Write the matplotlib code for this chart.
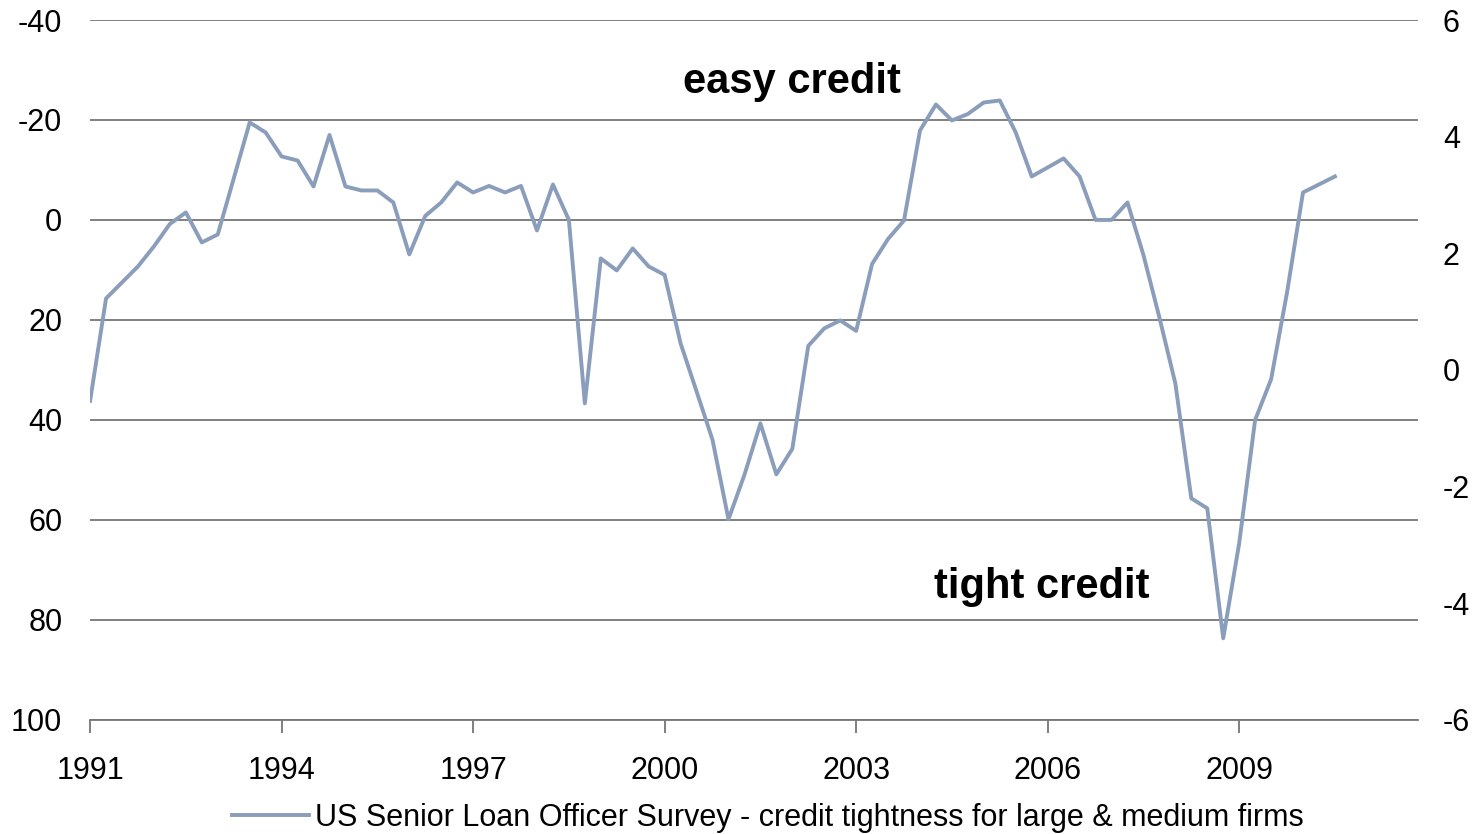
import numpy as np
import matplotlib.pyplot as plt

plt.rcParams['font.family'] = ['Liberation Sans', 'DejaVu Sans']

# quarterly values, 1991 Q1 .. 2010 Q3 (net % of banks tightening; inverted axis)
tightness = [
    36.2, 15.7, 12.5, 9.3, 5.3, 0.8, -1.5, 4.5, 2.9, -8.3,
    -19.5, -17.5, -12.7, -11.9, -6.7, -17.0, -6.7, -5.9, -5.9, -3.5,
    6.9, -0.8, -3.5, -7.5, -5.5, -6.8, -5.5, -6.8, 2.1, -7.1,
    0.0, 36.7, 7.7, 10.1, 5.7, 9.3, 11.0, 24.7, 34.3, 44.0,
    59.9, 51.0, 40.7, 50.9, 45.8, 25.2, 21.7, 20.1, 22.2, 8.8,
    3.8, 0.1, -17.9, -23.1, -19.9, -21.2, -23.5, -23.9, -17.5, -8.7,
    -10.5, -12.3, -8.7, 0.0, 0.0, -3.5, 7.0, 19.5, 32.7, 55.7,
    57.7, 83.7, 64.7, 40.0, 31.9, 14.5, -5.5, -7.1, -8.7,
]
year_labels = ['1991', '1994', '1997', '2000', '2003', '2006', '2009']
left_ticks = [-40, -20, 0, 20, 40, 60, 80, 100]
right_ticks = [6, 4, 2, 0, -2, -4, -6]
series_name = 'US Senior Loan Officer Survey - credit tightness for large & medium firms'

x = np.arange(len(tightness))

fig = plt.figure(figsize=(14.77, 8.34), dpi=100)
ax = fig.add_axes([0.061, 0.137, 0.899, 0.839])

ax.plot(x, tightness, color='#8A9DBB', lw=2.8, label=series_name, zorder=3)

ax.set_ylim(100, -40)
ax.set_xlim(0, 83.2)
ax.set_yticks(left_ticks)
ax.set_yticklabels([str(t) for t in left_ticks])
ax.set_xticks(np.arange(len(year_labels)) * 12)
ax.set_xticklabels(year_labels)
ax.grid(axis='y', color='#767676', lw=1.3)
ax.set_axisbelow(True)

for s in ['top', 'right', 'left']:
    ax.spines[s].set_visible(False)
ax.spines['bottom'].set_color('#767676')
ax.spines['bottom'].set_linewidth(1.3)
ax.tick_params(axis='y', length=0, labelsize=22, pad=20)
ax.tick_params(axis='x', length=9, width=1.3, color='#767676', labelsize=22, pad=17, direction='out')

ax2 = ax.twinx()
ax2.set_ylim(-6, 6)
ax2.set_yticks(right_ticks)
ax2.set_yticklabels([str(t) for t in right_ticks])
for s in ['top', 'right', 'left', 'bottom']:
    ax2.spines[s].set_visible(False)
ax2.tick_params(axis='y', length=0, labelsize=22, pad=18)

ax.text(44.0, -27.6, 'easy credit', fontsize=30, fontweight='bold', ha='center', va='center')
ax.text(59.6, 73.4, 'tight credit', fontsize=30, fontweight='bold', ha='center', va='center')

fig.legend(loc='lower center', bbox_to_anchor=(0.52, -0.032), frameon=False, fontsize=22,
           handlelength=2.5, handletextpad=0.2)

fig.savefig('out.png', dpi=100)
